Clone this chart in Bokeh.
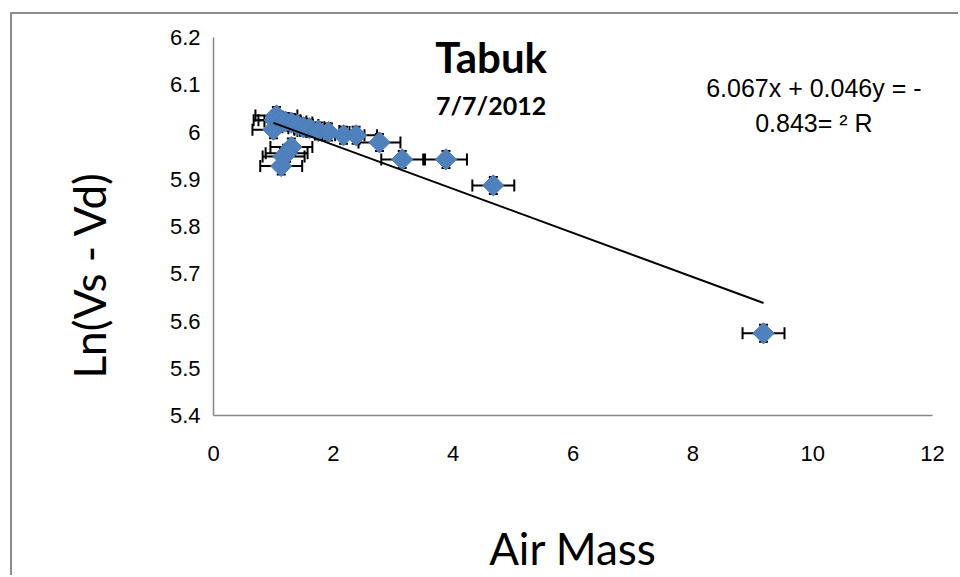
import numpy as np
from bokeh.plotting import figure
from bokeh.models import (ColumnDataSource, Whisker, TeeHead, Label, FixedTicker,
                          CustomJSTickFormatter, Range1d, Title)
from bokeh.embed import file_html
from bokeh.resources import INLINE

# ---- data ----
air_mass = [1.05, 1.02, 1.00, 1.10, 1.20, 1.30, 1.40, 1.50, 1.60, 1.75, 1.92, 2.17, 2.38,
            2.77, 3.15, 3.88, 4.67, 9.18, 1.30, 1.22, 1.17, 1.13]
ln_v = [6.035, 6.025, 6.005, 6.025, 6.022, 6.020, 6.015, 6.010, 6.008, 6.002, 6.000, 5.993,
        5.993, 5.978, 5.942, 5.942, 5.887, 5.574, 5.968, 5.955, 5.948, 5.928]
x_err = [0.35] * len(air_mass)
y_err = [0.018] * len(air_mass)
trend_slope = -0.0466
trend_intercept = 6.066
x_ticks = [0, 2, 4, 6, 8, 10, 12]
y_ticks = [5.4, 5.5, 5.6, 5.7, 5.8, 5.9, 6.0, 6.1, 6.2]
title_text = "Tabuk"
date_text = "7/7/2012"
eq_line1 = "6.067x + 0.046y = -"
eq_line2 = "0.843= \u00b2 R"
x_label = "Air Mass"
y_label = "Ln(Vs - Vd)"

xa = np.array(air_mass)
ya = np.array(ln_v)
src = ColumnDataSource(dict(
    x=xa, y=ya,
    xlo=xa - np.array(x_err), xhi=xa + np.array(x_err),
    ylo=ya - np.array(y_err), yhi=ya + np.array(y_err),
))

p = figure(width=948, height=563, output_backend="svg", toolbar_location=None,
           x_range=Range1d(0, 12), y_range=Range1d(5.4, 6.2),
           min_border_left=200, min_border_right=28, min_border_top=23,
           min_border_bottom=162,
           styles={"margin-left": "10px", "margin-top": "12px",
                   "border-left": "2px solid #8c8c8c", "border-top": "2px solid #8c8c8c"})
p.outline_line_color = None
p.grid.visible = False
p.background_fill_color = "white"
p.border_fill_color = "white"

for ax in (p.xaxis[0], p.yaxis[0]):
    ax.axis_line_color = "#868686"
    ax.axis_line_width = 1.5
    ax.major_tick_line_color = None
    ax.minor_tick_line_color = None
    ax.major_label_text_font = "Liberation Sans"
    ax.major_label_text_font_size = "22px"
    ax.major_label_text_color = "black"
    ax.axis_label_text_font = "Lato"
    ax.axis_label_text_font_size = "44px"
    ax.axis_label_text_font_style = "normal"
    ax.axis_label_text_color = "black"

p.xaxis.ticker = FixedTicker(ticks=x_ticks)
p.yaxis.ticker = FixedTicker(ticks=y_ticks)
p.yaxis.formatter = CustomJSTickFormatter(code="return (Math.round(tick*10)/10).toString();")
p.xaxis.formatter = CustomJSTickFormatter(code="return Math.round(tick).toString();")
p.xaxis.major_label_standoff = 24
p.yaxis.major_label_standoff = 7
p.xaxis.axis_label = x_label
p.xaxis.axis_label_standoff = 58

# y axis title placed on the left panel, shifted down like the reference
p.add_layout(Title(text=y_label, align="left", vertical_align="top", offset=37, standoff=100,
                   text_font="Lato", text_font_size="44px", text_font_style="normal",
                   text_color="black"), "left")

# error bars
wx = Whisker(source=src, base="y", lower="xlo", upper="xhi", dimension="width",
             line_color="black", line_width=2,
             upper_head=TeeHead(size=12, line_color="black", line_width=2),
             lower_head=TeeHead(size=12, line_color="black", line_width=2))
wy = Whisker(source=src, base="x", lower="ylo", upper="yhi", dimension="height",
             line_color="black", line_width=2,
             upper_head=TeeHead(size=9, line_color="black", line_width=2),
             lower_head=TeeHead(size=9, line_color="black", line_width=2))
p.add_layout(wx)
p.add_layout(wy)

p.scatter("x", "y", source=src, marker="square", angle=np.pi / 4, size=15,
          fill_color="#4F81BD", line_color="#4A7EBB", line_width=1)

tx = np.array([xa.min(), xa.max()])
p.line(tx, trend_intercept + trend_slope * tx, line_color="black", line_width=2)

p.add_layout(Label(x=4.633, y=6.158, text=title_text, text_align="center",
                   text_baseline="middle", text_font="Lato", text_font_style="bold",
                   text_font_size="42px", text_color="black"))
p.add_layout(Label(x=4.633, y=6.058, text=date_text, text_align="center",
                   text_baseline="middle", text_font="Lato", text_font_style="bold",
                   text_font_size="25px", text_color="black"))
p.add_layout(Label(x=10.02, y=6.093, text=eq_line1, text_align="center",
                   text_baseline="middle", text_font="Liberation Sans",
                   text_font_size="25px", text_color="black"))
p.add_layout(Label(x=10.02, y=6.018, text=eq_line2, text_align="center",
                   text_baseline="middle", text_font="Liberation Sans",
                   text_font_size="25px", text_color="black"))

open("out.html", "w").write(file_html(p, INLINE))
